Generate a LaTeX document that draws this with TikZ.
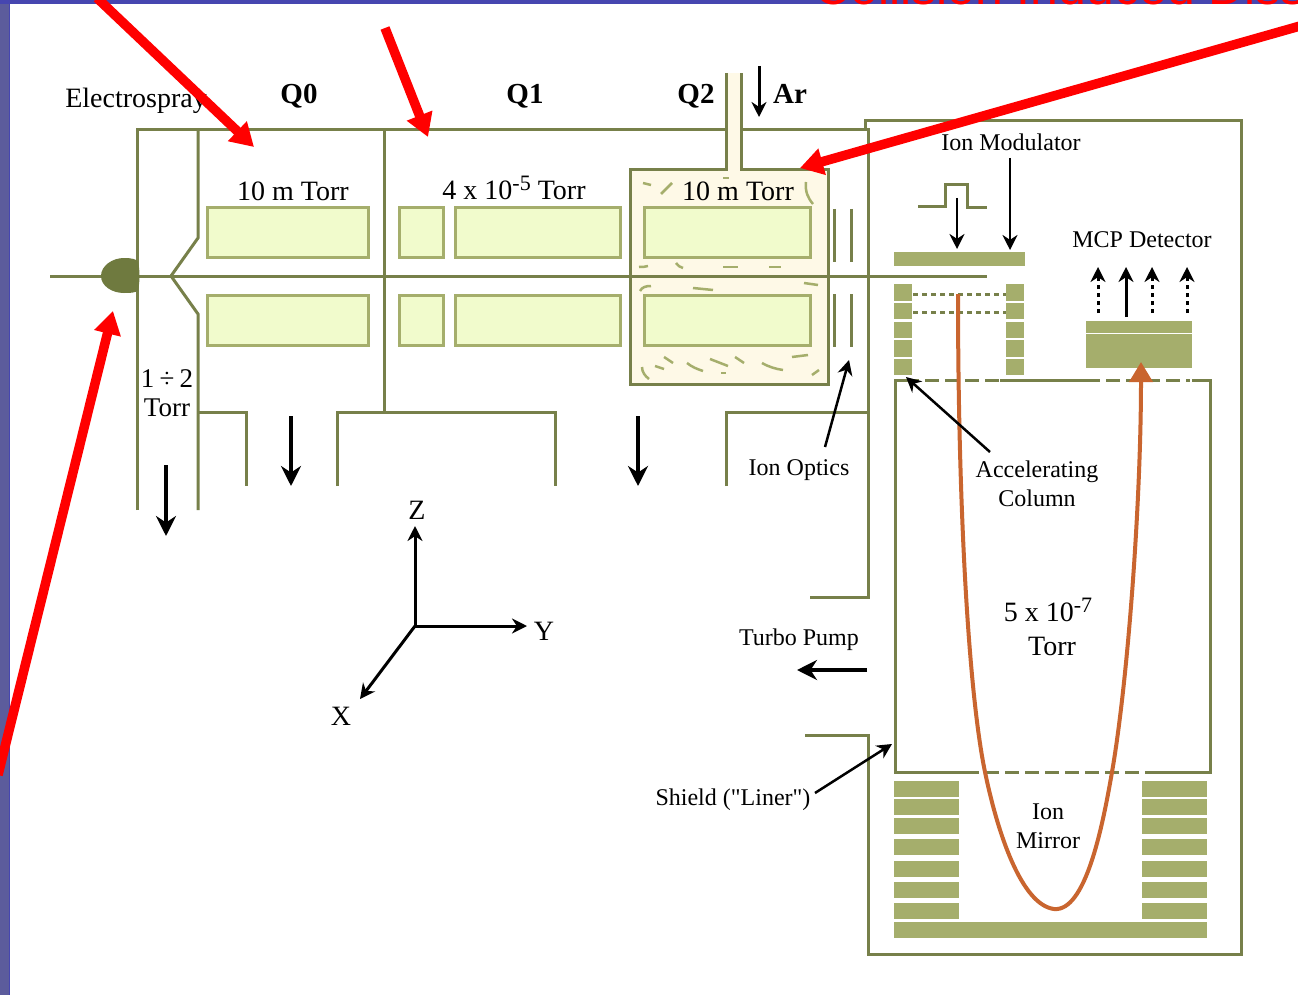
\documentclass[tikz,border=0pt]{standalone}
\usepackage{fontspec}
\setmainfont{Liberation Serif}
\newfontfamily\titlefont{Liberation Sans}
\newfontfamily\plainserif{Liberation Serif}
\usetikzlibrary{arrows.meta,positioning,calc}
\definecolor{wallcol}{HTML}{77804A}
\definecolor{dropcol}{HTML}{6F7A3F}
\definecolor{tilecol}{HTML}{A5AE6C}
\definecolor{rodcol}{HTML}{F1FBCC}
\definecolor{gascol}{HTML}{FEF9E7}
\definecolor{beamcol}{HTML}{C9652F}
\definecolor{framecol}{HTML}{4646B0}
\definecolor{sidecol}{HTML}{5C5C9C}
\newcommand{\sizeA}{\fontsize{28}{31}\selectfont}
\newcommand{\sizeB}{\fontsize{24}{29}\selectfont}
\newcommand{\expo}[1]{\raisebox{9pt}{\fontsize{22}{22}\selectfont #1}}

\begin{document}
\begin{tikzpicture}[
    x=1pt, y=-1pt,
    wall/.style={draw=wallcol, line width=3pt},
    rod/.style={draw=tilecol, fill=rodcol, line width=3pt, minimum height=50pt, inner sep=0pt},
    tile/.style={fill=tilecol},
    scribble/.style={draw=tilecol, line width=2.5pt},
    grid/.style={draw=wallcol, line width=3pt, dash pattern=on 14pt off 6pt},
    pointer/.style={-{Stealth[length=15pt,width=15pt]}, line width=2.5pt},
    pump/.style={-{Stealth[length=20pt,width=20pt]}, line width=3.5pt},
    ionpath/.style={draw=beamcol, line width=4pt},
    callout/.style={-{Triangle[length=23pt,width=26pt]}, red, line width=9.5pt},
    lab/.style={font=\sizeB, inner sep=0pt, align=center},
    big/.style={font=\sizeA, inner sep=0pt, align=center},
    stage/.style={font=\fontsize{29}{31}\selectfont\bfseries, inner sep=0pt},
  ]
  \useasboundingbox (0,0) rectangle (1298,995);

  % Slide frame
  \fill[white] (0,0) rectangle (1298,995);
  \fill[sidecol] (0,0) rectangle (9,995);
  \fill[framecol] (0,0) rectangle (1298,4);
  \fill[framecol] (9,0) rectangle (10,995);
  \begin{scope}
    \clip (0,0) rectangle (1298,995);
    \node[anchor=base west, red, inner sep=0pt, font=\titlefont\fontsize{50}{50}\selectfont] (title) at (814,5) {Collision Induced Dissociation};
  \end{scope}

  % Collision cell
  \fill[gascol] (726,73) rectangle (741,172);
  \fill[gascol] (630,170) rectangle (828,384);
  \draw[wall] (726,73) -- (726,170) -- (630,170) -- (630,384) -- (828,384) -- (828,170) -- (741,170) -- (741,73);

  % Housing
  \draw[wall] (137,510) -- (137,130) -- (726,130);
  \draw[wall] (741,130) -- (868,130) -- (868,597) -- (810,597);
  \draw[wall] (198,130) -- (198,238) -- (171,276) -- (198,314) -- (198,510);
  \draw[wall] (384,130) -- (384,412);
  \draw[wall] (198,412) -- (246,412) -- (246,486);
  \draw[wall] (337,486) -- (337,412) -- (555,412) -- (555,486);
  \draw[wall] (726,486) -- (726,412) -- (868,412);
  \draw[wall] (805,735) -- (868,735) -- (868,954) -- (1241,954) -- (1241,121) -- (865,121) -- (865,130);

  % Ion beam axis and source
  \draw[wall] (50,276) -- (987,276);
  \fill[dropcol] (101,276) .. controls (101,266) and (112,258) .. (124,258) .. controls (131,258) and (137,259) .. (138,262)
    .. controls (140,270) and (140,282) .. (138,290) .. controls (136,293) and (130,293) .. (124,293) .. controls (112,293) and (101,286) .. (101,276) -- cycle;

  % Rods
  \node[rod, minimum width=161pt] (qzerotop) at (288,232.5) {};
  \node[rod, minimum width=161pt] (qzerobot) at (288,320.5) {};
  \node[rod, minimum width=44pt]  (stubbytop) at (421.5,232.5) {};
  \node[rod, minimum width=44pt]  (stubbybot) at (421.5,320.5) {};
  \node[rod, minimum width=165pt] (qonetop) at (538,232.5) {};
  \node[rod, minimum width=165pt] (qonebot) at (538,320.5) {};
  \node[rod, minimum width=166pt] (qtwotop) at (727.5,232.5) {};
  \node[rod, minimum width=166pt] (qtwobot) at (727.5,320.5) {};

  % Gas marks in the cell
  \foreach \ax/\ay/\bx/\by in {661/194/672/183, 723/178/729/178, 723/267/738/267, 769/267/781/267,
      693/288/713/290, 804/283/818/285, 655/366/664/369, 664/357/673/363, 710/359/728/366,
      721/373/726/373, 735/357/744/363, 792/357/808/355, 812/375/819/370, 643/183/651/185}
    \draw[scribble] (\ax,\ay) -- (\bx,\by);
  \draw[scribble] (806,182) .. controls (805,192) and (808,198) .. (813,204);
  \draw[scribble] (639,267) .. controls (642,267) and (645,267) .. (648,266);
  \draw[scribble] (676,263) .. controls (678,266) and (680,267) .. (683,268);
  \draw[scribble] (640,291) .. controls (642,287) and (646,286) .. (651,286);
  \draw[scribble] (642,367) .. controls (642,372) and (645,376) .. (649,379);
  \draw[scribble] (687,363) .. controls (692,367) and (697,369) .. (703,371);
  \draw[scribble] (762,363) .. controls (769,367) and (776,369) .. (783,370);

  % Ion optics
  \draw[wall] (834,209) -- (834,262);
  \draw[wall] (851,209) -- (851,262);
  \draw[wall] (834,294) -- (834,347);
  \draw[wall] (851,294) -- (851,347);

  % Modulator
  \draw[wall] (918,207) -- (945,207) -- (945,185) -- (967,185) -- (967,208) -- (987,208);
  \node[tile, minimum width=131pt, minimum height=14pt, inner sep=0pt] (modplate) at (959.5,259) {};
  \foreach \ta/\tb in {284/301, 303/319, 322/338, 340/357, 359/375} {
    \fill[tilecol] (894,\ta) rectangle (912,\tb);
    \fill[tilecol] (1006,\ta) rectangle (1024,\tb);
  }
  \draw[wall, dash pattern=on 5pt off 4pt] (913,294) -- (1006,294);
  \draw[wall, dash pattern=on 5pt off 4pt] (913,312) -- (1006,312);

  % Detector
  \node[tile, minimum width=106pt, minimum height=12pt, inner sep=0pt] (mcptop) at (1139,327) {};
  \node[tile, minimum width=106pt, minimum height=34pt, inner sep=0pt] (mcpbot) at (1139,351) {};
  \foreach \ax in {1098,1152,1187}
    \draw[pointer, line width=3pt, dash pattern=on 4pt off 4pt] (\ax,313) -- (\ax,267);
  \draw[pointer, line width=3pt] (1126,317) -- (1126,267);

  % Liner
  \draw[wall] (1000,380) -- (1100,380);
  \draw[wall] (1192,380) -- (1210,380) -- (1210,772) -- (1145,772);
  \draw[wall] (965,772) -- (895,772) -- (895,380) -- (905,380);
  \draw[grid] (905,380) -- (1000,380);
  \draw[grid] (1106,380) -- (1190,380);
  \draw[grid] (965,772) -- (1145,772);

  % Ion mirror
  \foreach \ta/\tb in {781/797, 799/815, 818/834, 839/855, 861/877, 882/898, 903/919} {
    \fill[tilecol] (894,\ta) rectangle (959,\tb);
    \fill[tilecol] (1142,\ta) rectangle (1207,\tb);
  }
  \node[tile, minimum width=313pt, minimum height=16pt, inner sep=0pt] (mirrorbase) at (1050.5,930) {};

  % Ion trajectory
  \draw[ionpath, -{Triangle[length=20pt,width=23pt]}] (958,294) .. controls (958,500) and (968,690) .. (985,772)
    .. controls (998,835) and (1022,905) .. (1054,909) .. controls (1085,912) and (1102,830) .. (1112,772)
    .. controls (1128,680) and (1141,500) .. (1141,362);

  % Labels
  \node[big] (electrospray) at (136,101) {Electrospray};
  \node[stage] (qzero) at (299,96) {Q0};
  \node[stage] (qone) at (525,96) {Q1};
  \node[stage] (qtwo) at (696,96) {Q2};
  \node[stage] (argon) at (790,94) {Ar};
  \node[big] (pzero) at (293,191) {10 m Torr};
  \node[big] (pone) at (514,188) {4 x 10\expo{-5} Torr};
  \node[big] (ptwo) at (738,191) {10 m Torr};
  \node[big, font=\fontsize{27}{29}\selectfont] (psource) at (167,393.5) {1\hspace{-1.5pt} ÷\hspace{-1.5pt} 2\\Torr};
  \node[lab] (modlabel) at (1011,142) {Ion Modulator};
  \node[lab] (mcplabel) at (1142,240) {MCP Detector};
  \node[lab] (opticslabel) at (799,470) {Ion Optics};
  \node[lab] (columnlabel) at (1037,484) {Accelerating\\Column};
  \node[big] (ptof) at (1048,610) {5 x 10\expo{-7}};
  \node[big] (ptoftorr) at (1052,646) {Torr};
  \node[lab] (turbolabel) at (799,640) {Turbo Pump};
  \node[lab] (linerlabel) at (733,800) {Shield ({\plainserif"}Liner{\plainserif"})};
  \node[lab] (mirrorlabel) at (1048,826) {Ion\\Mirror};
  \node[big] (zlabel) at (417,510) {Z};
  \node[big] (ylabel) at (544,631) {Y};
  \node[big] (xlabel) at (341,716) {X};

  % Pumping and gas flow
  \draw[pump] (291,416) -- (291,486);
  \draw[pump] (638,416) -- (638,486);
  \draw[pump] (166,465) -- (166,536);
  \draw[pointer, line width=3pt] (759,66) -- (759,117);
  \draw[pump] (867,670) -- (797,670);

  % Axes
  \coordinate (origin) at (415,626);
  \coordinate (ztip) at (415,526);
  \coordinate (ytip) at (527,626);
  \coordinate (xtip) at (360,699);
  \draw[pointer, line width=3pt] (origin) -- (ztip);
  \draw[pointer, line width=3pt] (origin) -- (ytip);
  \draw[pointer, line width=3pt] (origin) -- (xtip);

  % Pointers from labels
  \coordinate (pulsetop) at (957,198);
  \coordinate (pulsetip) at (957,249);
  \coordinate (modstart) at (1010,158);
  \coordinate (modtip) at (1010,250);
  \coordinate (opticsstart) at (825,447);
  \coordinate (opticstip) at (849,360);
  \coordinate (columnstart) at (990,452);
  \coordinate (columntip) at (906,377);
  \coordinate (linerstart) at (815,793);
  \coordinate (linertip) at (892,744);
  \draw[pointer] (pulsetop) -- (pulsetip);
  \draw[pointer] (modstart) -- (modtip);
  \draw[pointer] (opticsstart) -- (opticstip);
  \draw[pointer] (columnstart) -- (columntip);
  \draw[pointer] (linerstart) -- (linertip);

  % Red call-outs
  \coordinate (redastart) at (97,-2);
  \coordinate (redatip) at (254,147);
  \coordinate (redbstart) at (385,28);
  \coordinate (redbtip) at (428,137);
  \coordinate (redcstart) at (1300,26);
  \coordinate (redctip) at (800,168);
  \coordinate (reddstart) at (-2,775);
  \coordinate (reddtip) at (113,311);
  \draw[callout] (redastart) -- (redatip);
  \draw[callout] (redbstart) -- (redbtip);
  \draw[callout] (redcstart) -- (redctip);
  \draw[callout] (reddstart) -- (reddtip);
\end{tikzpicture}
\end{document}
